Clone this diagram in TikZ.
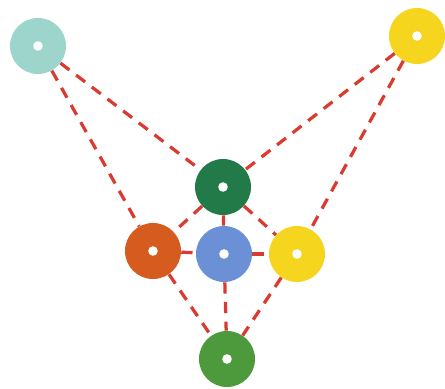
\documentclass[tikz,border=0pt]{standalone}
\usepackage{xcolor}
\usepackage{tikz}
\usetikzlibrary{shapes.geometric, arrows, positioning, calc}
\definecolor{beadcyan}{HTML}{9DD5CC}
\definecolor{beadyellow}{HTML}{F6D51E}
\definecolor{beaddkgreen}{HTML}{227A48}
\definecolor{beadorange}{HTML}{D65B1F}
\definecolor{beadblue}{HTML}{6C90D6}
\definecolor{beadgreen}{HTML}{4C9A3C}
\definecolor{linkred}{HTML}{D93B30}
\tikzstyle{bead} = [circle, inner sep=0pt, minimum size=1.4cm, path picture={\fill[white] (path picture bounding box.center) circle (0.12cm);}]
\tikzstyle{line} = [draw, linkred, line width=2.3pt, dash pattern=on 8pt off 6pt]

\begin{document}
\begin{tikzpicture}[x=0.025cm, y=-0.025cm]
        \useasboundingbox (0,0) rectangle (445,388);
        % Nodes
        \node [bead, fill=beadcyan] (cyan) at (38,46) {};
        \node [bead, fill=beadyellow] (topyellow) at (417,36) {};
        \node [bead, fill=beaddkgreen] (top) at (223,187) {};
        \node [bead, fill=beadorange] (left) at (153,251) {};
        \node [bead, fill=beadblue] (mid) at (224,254) {};
        \node [bead, fill=beadyellow] (right) at (297,254) {};
        \node [bead, fill=beadgreen] (bottom) at (227,359) {};

        % Paths
        \draw [line] (cyan) -- (top);
        \draw [line] (cyan) -- (left);
        \draw [line] (topyellow) -- (top);
        \draw [line] (topyellow) -- (right);
        \draw [line] (top) -- (left);
        \draw [line] (top) -- (mid);
        \draw [line] (top) -- (right);
        \draw [line] (left) -- (mid);
        \draw [line] (mid) -- (right);
        \draw [line] (left) -- (bottom);
        \draw [line] (mid) -- (bottom);
        \draw [line] (right) -- (bottom);
    \end{tikzpicture}
\end{document}
